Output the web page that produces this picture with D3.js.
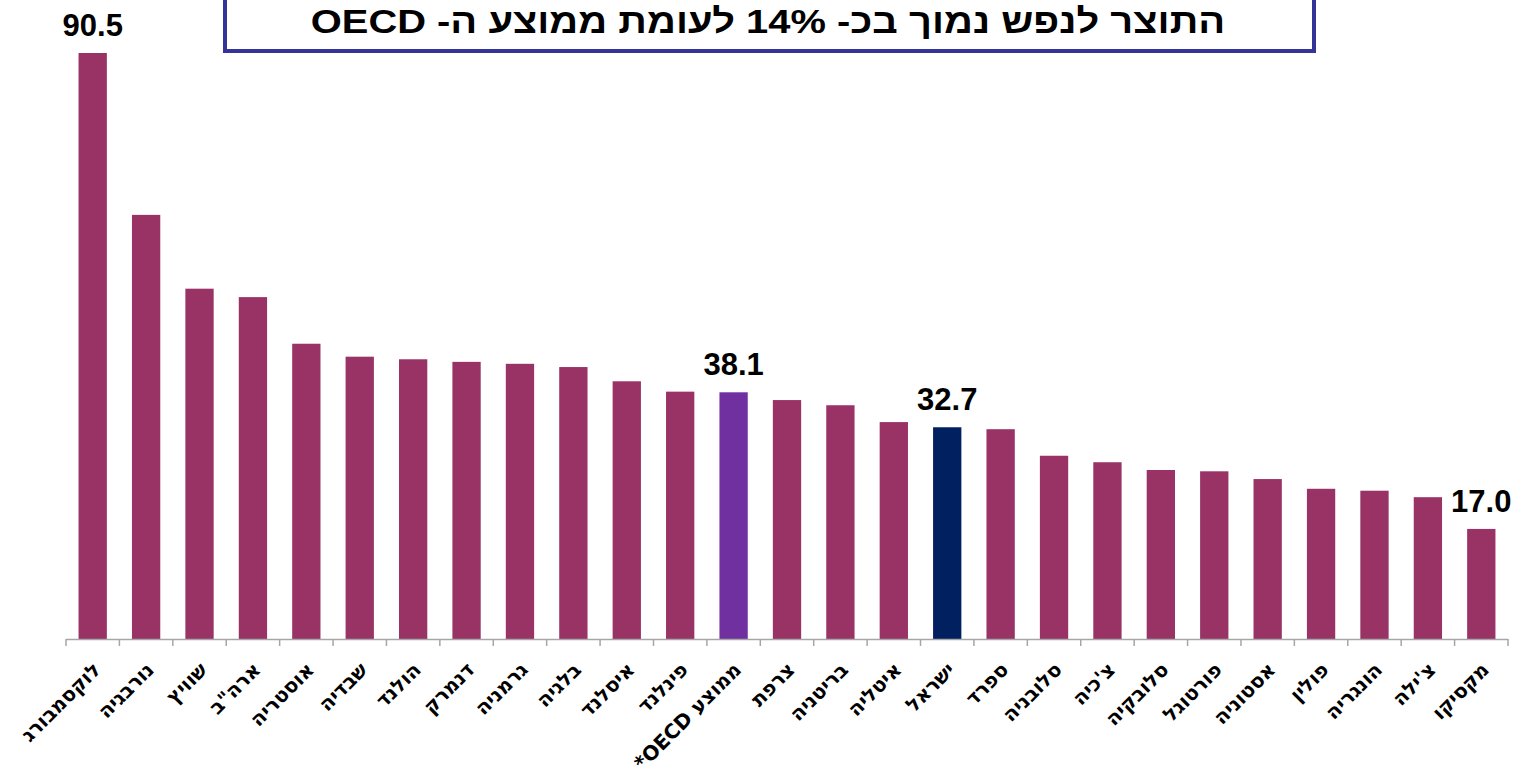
<!DOCTYPE html>
<html>
<head>
<meta charset="utf-8">
<script src="https://cdn.jsdelivr.net/npm/d3@7"></script>
<style>
  body { margin: 0; background: #fff; }
  svg { display: block; }
</style>
</head>
<body>
<div class="chart"></div>
<script>
var svgWidth = 1530;
var svgHeight = 777;

// countries, left to right
var countries = ["לוקסמבורג", "נורבגיה", "שוויץ", "ארה\"ב", "אוסטריה", "שבדיה", "הולנד", "דנמרק",
  "גרמניה", "בלגיה", "איסלנד", "פינלנד", "ממוצע OECD*", "צרפת", "בריטניה", "איטליה", "ישראל",
  "ספרד", "סלובניה", "צ'כיה", "סלובקיה", "פורטוגל", "אסטוניה", "פולין", "הונגריה", "צ'ילה", "מקסיקו"];

var values = [90.5, 65.5, 54.1, 52.8, 45.6, 43.6, 43.2, 42.8, 42.5, 42.0, 39.8, 38.2, 38.1,
  36.9, 36.1, 33.5, 32.7, 32.4, 28.3, 27.3, 26.1, 25.9, 24.7, 23.2, 22.9, 21.9, 17.0];

var labelled = ["לוקסמבורג", "ממוצע OECD*", "ישראל", "מקסיקו"];

var titleText = "התוצר לנפש נמוך בכ- 14% לעומת ממוצע ה- OECD";

var margin = { top: 53, right: 22, bottom: 138, left: 66 };
var width = svgWidth - margin.left - margin.right;
var height = svgHeight - margin.top - margin.bottom;

var svg = d3.select(".chart")
  .append("svg")
  .attr("width", svgWidth)
  .attr("height", svgHeight);

var g = svg.append("g")
  .attr("transform", "translate(" + margin.left + "," + margin.top + ")");

var x = d3.scaleBand()
  .domain(countries)
  .range([0, width])
  .paddingInner(0.47)
  .paddingOuter(0.235);

var y = d3.scaleLinear()
  .domain([0, 90.5])
  .range([height, 0]);

function barColor(name) {
  if (name == "ממוצע OECD*") return "#7030a0";
  if (name == "ישראל") return "#002060";
  return "#993366";
}

g.selectAll("rect.bar")
  .data(countries)
  .enter()
  .append("rect")
  .attr("class", "bar")
  .attr("x", function(d) { return x(d); })
  .attr("y", function(d, i) { return y(values[i]); })
  .attr("width", x.bandwidth())
  .attr("height", function(d, i) { return height - y(values[i]); })
  .attr("fill", function(d) { return barColor(d); });

// axis line + ticks between categories
var step = x.step();
var tickPos = d3.range(countries.length + 1).map(function(i) { return i * step; });

g.append("line")
  .attr("x1", 0)
  .attr("x2", width)
  .attr("y1", height + 0.5)
  .attr("y2", height + 0.5)
  .attr("stroke", "#a6a6a6")
  .attr("stroke-width", 1.5);

g.selectAll("line.tick")
  .data(tickPos)
  .enter()
  .append("line")
  .attr("class", "tick")
  .attr("x1", function(d) { return d; })
  .attr("x2", function(d) { return d; })
  .attr("y1", height)
  .attr("y2", height + 7)
  .attr("stroke", "#a6a6a6")
  .attr("stroke-width", 1.5);

// category labels, rotated
g.selectAll("text.cat")
  .data(countries)
  .enter()
  .append("text")
  .attr("class", "cat")
  .attr("transform", function(d) {
    var cx = x(d) + x.bandwidth() / 2 + 9;
    return "translate(" + cx + "," + (height + 32) + ") rotate(-45)";
  })
  .attr("direction", "rtl")
  .attr("text-anchor", "start")
  .attr("font-family", "DejaVu Sans, Liberation Sans, sans-serif")
  .attr("font-weight", "bold")
  .attr("font-size", 20)
  .attr("fill", "#000")
  .text(function(d) { return d; });

// value labels
g.selectAll("text.val")
  .data(countries.filter(function(d) { return labelled.indexOf(d) >= 0; }))
  .enter()
  .append("text")
  .attr("class", "val")
  .attr("x", function(d) { return x(d) + x.bandwidth() / 2; })
  .attr("y", function(d) { return y(values[countries.indexOf(d)]) - 17; })
  .attr("text-anchor", "middle")
  .attr("font-family", "Liberation Sans, Arial, sans-serif")
  .attr("font-weight", "bold")
  .attr("font-size", 31)
  .attr("fill", "#000")
  .text(function(d) { return values[countries.indexOf(d)].toFixed(1); });

// title box
svg.append("rect")
  .attr("x", 225)
  .attr("y", -4)
  .attr("width", 1089)
  .attr("height", 55)
  .attr("fill", "#fff")
  .attr("stroke", "#333399")
  .attr("stroke-width", 4);

var title = svg.append("text")
  .attr("direction", "rtl")
  .attr("text-anchor", "middle")
  .attr("font-family", "Liberation Sans, Arial, sans-serif")
  .attr("font-weight", "bold")
  .attr("font-size", 34)
  .attr("fill", "#000")
  .text(titleText);

// stretch the title to the width it has in the box
var titleLen = title.node().getComputedTextLength();
var sx = 915 / titleLen;
title.attr("transform", "translate(768,33) scale(" + sx + ",1)");
</script>
</body>
</html>
